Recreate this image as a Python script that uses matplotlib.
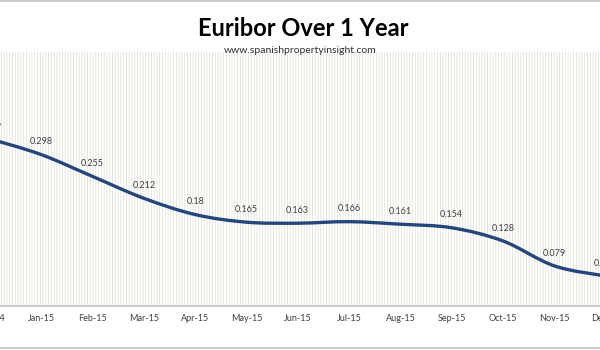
import matplotlib
matplotlib.use('Agg')
import matplotlib.pyplot as plt
from matplotlib.path import Path
from matplotlib.patches import PathPatch
import numpy as np

months = ['Dec-14', 'Jan-15', 'Feb-15', 'Mar-15', 'Apr-15', 'May-15', 'Jun-15',
          'Jul-15', 'Aug-15', 'Sep-15', 'Oct-15', 'Nov-15', 'Dec-15']
euribor = [0.329, 0.298, 0.255, 0.212, 0.18, 0.165, 0.163,
           0.166, 0.161, 0.154, 0.128, 0.079, 0.059]
value_labels = ['0.329', '0.298', '0.255', '0.212', '0.18', '0.165', '0.163',
                '0.166', '0.161', '0.154', '0.128', '0.079', '0.059']

plt.rcParams['font.family'] = ['Lato', 'DejaVu Sans']
plt.rcParams['hatch.linewidth'] = 0.6

fig = plt.figure(figsize=(6, 3.5), dpi=100)
# axes is a bit wider than the figure: first and last month fall just past
# the picture edges, like the cropped original
ax = fig.add_axes([-10 / 600, 44 / 350, 615.6 / 600, 254 / 350])

# striped plot area like the excel pattern fill
ax.patch.set_facecolor('white')
ax.patch.set_edgecolor('#e4e1da')
ax.patch.set_hatch('||||||')
ax.patch.set_linewidth(0)

# smoothed line (excel style bezier through the points)
x = np.arange(len(euribor))
y = np.array(euribor)
verts = [(x[0], y[0])]
codes = [Path.MOVETO]
n = len(x)
for i in range(n - 1):
    p0 = np.array([x[max(i - 1, 0)], y[max(i - 1, 0)]])
    p1 = np.array([x[i], y[i]])
    p2 = np.array([x[i + 1], y[i + 1]])
    p3 = np.array([x[min(i + 2, n - 1)], y[min(i + 2, n - 1)]])
    c1 = p1 + (p2 - p0) / 6
    c2 = p2 - (p3 - p1) / 6
    verts += [tuple(c1), tuple(c2), tuple(p2)]
    codes += [Path.CURVE4] * 3
ax.add_patch(PathPatch(Path(verts, codes), facecolor='none', edgecolor='#24467a',
                       lw=2.4, capstyle='round', joinstyle='round'))

for xi, yi, lab in zip(x, euribor, value_labels):
    ax.annotate(lab, (xi, yi), xytext=(0, 6), textcoords='offset points',
                ha='center', va='bottom', fontsize=6.5, color='#404040',
                annotation_clip=False)

ax.set_xticks(x)
ax.set_xticklabels(months, fontsize=6.5, color='#404040')
ax.set_xlim(0, len(months) - 1)
ax.set_ylim(0, 0.5)
ax.tick_params(axis='x', length=0, pad=6)
ax.set_yticks([])
for s in ['top', 'left', 'right']:
    ax.spines[s].set_visible(False)
ax.spines['bottom'].set_color('#bfbfbf')
ax.spines['bottom'].set_linewidth(1.2)

fig.text(0.505, 0.918, 'Euribor Over 1 Year', ha='center', va='center',
         fontsize=17, fontweight='bold', color='black')
fig.text(0.5, 0.857, 'www.spanishpropertyinsight.com', ha='center', va='center',
         fontsize=7.5, color='#303030')

# chart frame lines
fig.add_artist(plt.Line2D([0, 1], [0.996, 0.996], color='#c0c0c0', lw=1.2,
                          transform=fig.transFigure))
fig.add_artist(plt.Line2D([0, 1], [0.006, 0.006], color='#c0c0c0', lw=1.2,
                          transform=fig.transFigure))

fig.savefig('out.png', dpi=100)
